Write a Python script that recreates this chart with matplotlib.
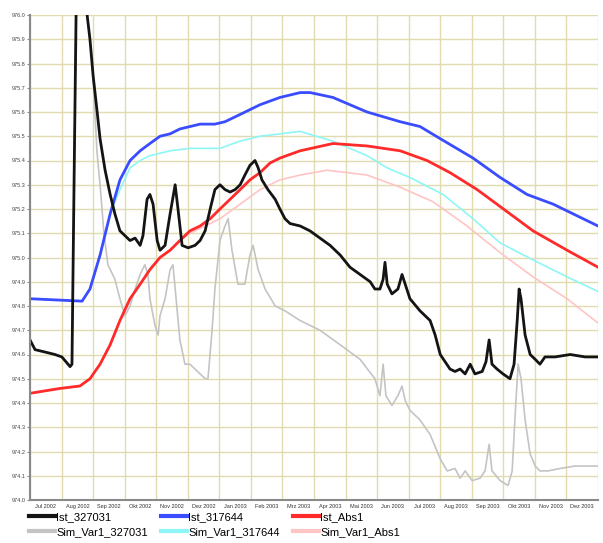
import matplotlib
matplotlib.use("Agg")
from matplotlib import pyplot as plt
import numpy as np

# x = months since 1 Jul 2002, y = values
month_labels = ["Jul 2002", "Aug 2002", "Sep 2002", "Okt 2002", "Nov 2002", "Dez 2002",
                "Jan 2003", "Feb 2003", "Mrz 2003", "Apr 2003", "Mai 2003", "Jun 2003",
                "Jul 2003", "Aug 2003", "Sep 2003", "Okt 2003", "Nov 2003", "Dez 2003"]

ist_317644_x = [0, 1.65, 1.90, 2.22, 2.54, 2.85, 3.17, 3.49, 3.80, 4.12, 4.44, 4.75, 5.07, 5.39,
                5.86, 6.18, 6.66, 7.29, 7.92, 8.56, 8.88, 9.60, 10.68, 11.73, 12.36, 13.00,
                14.04, 14.90, 15.75, 16.58, 17.21, 18.0]
ist_317644_y = [974.83, 974.82, 974.87, 975.01, 975.18, 975.32, 975.40, 975.44, 975.47, 975.50,
                975.51, 975.53, 975.54, 975.55, 975.55, 975.56, 975.59, 975.63, 975.66, 975.68,
                975.68, 975.66, 975.60, 975.56, 975.54, 975.49, 975.41, 975.33, 975.26, 975.22,
                975.18, 975.13]

sim_317644_x = [0, 1.65, 1.90, 2.22, 2.54, 2.85, 3.17, 3.49, 3.80, 4.44, 5.07, 6.02, 6.66, 7.29,
                7.92, 8.56, 9.60, 10.68, 11.31, 12.04, 13.09, 14.04, 14.90, 15.94, 17.02, 18.0]
sim_317644_y = [974.83, 974.82, 974.87, 975.01, 975.18, 975.28, 975.37, 975.40, 975.42, 975.44,
                975.45, 975.45, 975.48, 975.50, 975.51, 975.52, 975.48, 975.42, 975.37, 975.33,
                975.26, 975.16, 975.06, 974.99, 974.92, 974.86]

ist_abs1_x = [0, 0.95, 1.58, 1.90, 2.22, 2.54, 2.85, 3.17, 3.49, 3.80, 4.12, 4.44, 4.75, 5.07,
              5.39, 5.71, 6.02, 6.34, 6.66, 6.97, 7.29, 7.61, 7.92, 8.56, 9.60, 10.68, 11.73,
              12.58, 13.31, 14.17, 14.90, 15.94, 17.02, 18.0]
ist_abs1_y = [974.44, 974.46, 974.47, 974.50, 974.56, 974.64, 974.74, 974.83, 974.89, 974.95,
              975.00, 975.03, 975.07, 975.11, 975.13, 975.16, 975.20, 975.24, 975.28, 975.32,
              975.35, 975.39, 975.41, 975.44, 975.47, 975.46, 975.44, 975.40, 975.35, 975.28,
              975.21, 975.11, 975.03, 974.96]

sim_abs1_x = [0, 0.95, 1.58, 1.90, 2.22, 2.54, 2.85, 3.17, 3.49, 3.80, 4.12, 4.44, 4.75, 5.07,
              5.39, 6.02, 6.66, 7.29, 7.92, 8.56, 9.41, 10.68, 11.73, 12.77, 13.85, 14.90,
              15.94, 17.02, 18.0]
sim_abs1_y = [974.44, 974.46, 974.47, 974.50, 974.56, 974.64, 974.74, 974.83, 974.89, 974.95,
              975.00, 975.03, 975.07, 975.10, 975.12, 975.16, 975.22, 975.28, 975.32, 975.34,
              975.36, 975.34, 975.29, 975.23, 975.13, 975.02, 974.92, 974.83, 974.73]

ist_327031_x = [0, 0.16, 0.48, 0.79, 1.01, 1.14, 1.27, 1.33, 1.39, 1.46, 1.62, 1.81, 1.90, 2.00,
                2.12, 2.22, 2.38, 2.54, 2.69, 2.85, 3.01, 3.17, 3.33, 3.49, 3.58, 3.71, 3.80,
                3.90, 4.03, 4.12, 4.28, 4.44, 4.60, 4.69, 4.82, 5.01, 5.23, 5.39, 5.55, 5.71,
                5.86, 6.02, 6.18, 6.34, 6.50, 6.66, 6.81, 6.97, 7.13, 7.23, 7.35, 7.54, 7.77,
                7.92, 8.08, 8.24, 8.56, 8.87, 9.19, 9.51, 9.83, 10.14, 10.46, 10.78, 10.93,
                11.09, 11.19, 11.25, 11.32, 11.47, 11.66, 11.79, 11.89, 12.04, 12.36, 12.68,
                12.84, 13.00, 13.31, 13.47, 13.63, 13.79, 13.95, 14.10, 14.33, 14.45, 14.55,
                14.64, 14.80, 14.99, 15.21, 15.34, 15.44, 15.50, 15.56, 15.69, 15.85, 16.01,
                16.16, 16.32, 16.64, 17.12, 17.59, 18.0]
ist_327031_y = [974.66, 974.62, 974.61, 974.60, 974.59, 974.57, 974.55, 974.56, 975.24, 976.00,
                976.23, 976.00, 975.90, 975.75, 975.61, 975.49, 975.36, 975.26, 975.18, 975.11,
                975.09, 975.07, 975.08, 975.05, 975.09, 975.24, 975.26, 975.22, 975.07, 975.03,
                975.05, 975.18, 975.30, 975.20, 975.05, 975.04, 975.05, 975.07, 975.11, 975.20,
                975.28, 975.30, 975.28, 975.27, 975.28, 975.30, 975.34, 975.38, 975.40, 975.37,
                975.32, 975.28, 975.24, 975.20, 975.16, 975.14, 975.13, 975.11, 975.08, 975.05,
                975.01, 974.96, 974.93, 974.90, 974.87, 974.87, 974.91, 974.98, 974.89, 974.85,
                974.87, 974.93, 974.89, 974.83, 974.78, 974.74, 974.68, 974.60, 974.54, 974.53,
                974.54, 974.52, 974.56, 974.52, 974.53, 974.57, 974.66, 974.56, 974.54, 974.52,
                974.50, 974.56, 974.74, 974.87, 974.83, 974.68, 974.60, 974.58, 974.56, 974.59,
                974.59, 974.60, 974.59, 974.59]

sim_327031_x = [0, 0.16, 0.48, 0.79, 1.01, 1.14, 1.27, 1.33, 1.39, 1.46, 1.62, 1.81, 1.90, 2.00,
                2.12, 2.22, 2.35, 2.47, 2.69, 2.85, 3.01, 3.17, 3.33, 3.49, 3.64, 3.74, 3.80,
                3.96, 4.06, 4.12, 4.28, 4.44, 4.53, 4.63, 4.75, 4.91, 5.07, 5.23, 5.39, 5.55,
                5.64, 5.77, 5.86, 6.02, 6.18, 6.28, 6.40, 6.59, 6.81, 6.97, 7.07, 7.23, 7.45,
                7.77, 8.08, 8.56, 9.19, 9.83, 10.46, 10.93, 11.09, 11.19, 11.28, 11.47, 11.66,
                11.79, 11.89, 12.04, 12.36, 12.68, 13.00, 13.22, 13.47, 13.63, 13.79, 14.01,
                14.26, 14.42, 14.55, 14.64, 14.90, 15.15, 15.28, 15.40, 15.47, 15.56, 15.69,
                15.85, 16.01, 16.16, 16.42, 16.80, 17.27, 18.0]
sim_327031_y = [974.66, 974.62, 974.61, 974.60, 974.59, 974.57, 974.55, 974.56, 975.24, 976.00,
                976.23, 976.00, 975.90, 975.75, 975.44, 975.30, 975.09, 974.97, 974.91, 974.83,
                974.76, 974.80, 974.87, 974.93, 974.97, 974.93, 974.83, 974.72, 974.68, 974.76,
                974.83, 974.95, 974.97, 974.83, 974.66, 974.56, 974.56, 974.54, 974.52, 974.50,
                974.50, 974.70, 974.87, 975.07, 975.13, 975.16, 975.03, 974.89, 974.89, 975.01,
                975.05, 974.95, 974.87, 974.80, 974.78, 974.74, 974.70, 974.64, 974.58, 974.50,
                974.43, 974.56, 974.43, 974.39, 974.43, 974.47, 974.41, 974.37, 974.33, 974.27,
                974.17, 974.12, 974.13, 974.09, 974.12, 974.08, 974.09, 974.12, 974.23, 974.12,
                974.08, 974.06, 974.12, 974.41, 974.56, 974.50, 974.33, 974.19, 974.14, 974.12,
                974.12, 974.13, 974.14, 974.14]

plt.rcParams['font.family'] = ['Liberation Sans', 'DejaVu Sans']

fig = plt.figure(figsize=(6.03, 5.43), dpi=100)
ax = fig.add_axes([30 / 603, 1 - 500 / 543, 568 / 603, 485 / 543])

# simulations underneath, measurements on top
h_sim1, = ax.plot(sim_327031_x, sim_327031_y, color='#c4c4c4', lw=1.2, label='Sim_Var1_327031')
h_sim2, = ax.plot(sim_317644_x, sim_317644_y, color='#8ef6f6', lw=1.2, label='Sim_Var1_317644')
h_sim3, = ax.plot(sim_abs1_x, sim_abs1_y, color='#ffc4c4', lw=1.2, label='Sim_Var1_Abs1')
h_ist2, = ax.plot(ist_317644_x, ist_317644_y, color='#3a4cff', lw=2, label='Ist_317644')
h_ist3, = ax.plot(ist_abs1_x, ist_abs1_y, color='#ff2a2a', lw=2, label='Ist_Abs1')
h_ist1, = ax.plot(ist_327031_x, ist_327031_y, color='#141414', lw=2, label='Ist_327031')

ax.set_xlim(0, 18)
ax.set_ylim(974.0, 976.0)

ax.set_xticks(np.arange(0, 19))
ax.set_xticklabels([])
ax.set_xticks(np.arange(18) + 0.5, minor=True)
ax.set_xticklabels(month_labels, minor=True, fontsize=4, color='#333333')
ax.tick_params(axis='x', which='both', length=0, pad=3)

yt = np.round(np.arange(974.0, 976.01, 0.1), 1)
ax.set_yticks(yt)
ax.set_yticklabels(['%.1f' % v for v in yt], fontsize=4, color='#444444')
ax.tick_params(axis='y', length=2, width=0.8, color='#888888', pad=1)

ax.grid(True, which='major', color='#e0dcb0', lw=1)
ax.set_axisbelow(True)
for s in ['top', 'right']:
    ax.spines[s].set_visible(False)
for s in ['left', 'bottom']:
    ax.spines[s].set_color('#8a8a8a')
    ax.spines[s].set_linewidth(1.5)

handles = [h_ist1, h_sim1, h_ist2, h_sim2, h_ist3, h_sim3]
leg = fig.legend(handles=handles, labels=[h.get_label() for h in handles],
                 loc='upper left', bbox_to_anchor=(29 / 603, 1 - 512 / 543),
                 ncol=3, frameon=False, fontsize=8, handlelength=2.3, handletextpad=0.15,
                 columnspacing=1.2, labelspacing=0.45, borderaxespad=0, borderpad=0)
for line in leg.get_lines():
    line.set_linewidth(3)

fig.savefig('out.png', dpi=100)
